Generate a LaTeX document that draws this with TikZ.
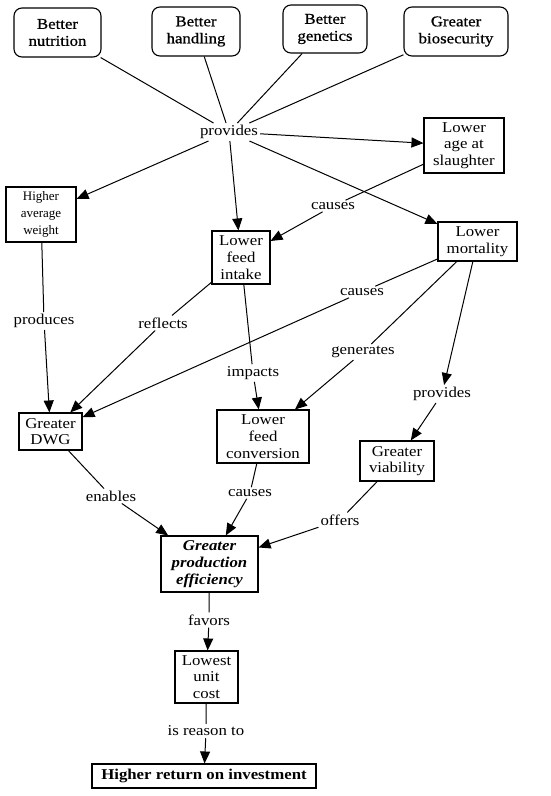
\documentclass[tikz,border=0pt]{standalone}
\usepackage{fontspec}
\setmainfont{Liberation Serif}[FakeStretch=1.12]
\newfontfamily\plainserif{Liberation Serif}
\newfontfamily\sourcefont{Liberation Serif}[FakeStretch=1.12, FakeBold=0.8]
\usetikzlibrary{arrows.meta, positioning}

\tikzset{
  concept/.style={draw, line width=1.1pt, align=center, inner sep=1pt,
    font=\fontsize{15}{16.7}\selectfont},
  source/.style={concept, rounded corners=8pt, font=\fontsize{15}{17}\sourcefont},
  linkword/.style={inner sep=2pt, font=\fontsize{15}{16.7}\selectfont},
  link/.style={line width=1pt},
  flow/.style={line width=1pt, -{Triangle[length=12pt, width=10pt]}}
}

\begin{document}
\begin{tikzpicture}[x=1pt, y=-1pt]
    \useasboundingbox (0,0) rectangle (550,796);

    % Sources
    \node[source, minimum width=87, minimum height=49] (nutr) at (57.5,32.5) {Better\\nutrition};
    \node[source, minimum width=88, minimum height=49] (hand) at (196,31.5) {Better\\handling};
    \node[source, minimum width=84, minimum height=48] (gene) at (325,29) {Better\\genetics};
    \node[source, minimum width=104, minimum height=49] (bios) at (456,31.5) {Greater\\biosecurity};
    \node[linkword] (prov) at (229,132) {provides};

    % Concepts
    \node[concept, minimum width=80, minimum height=55] (age) at (464,145.5) {Lower\\age at\\slaughter};
    \node[concept, minimum width=70, minimum height=55, font=\fontsize{13}{17}\plainserif] (avgw) at (41,214.5) {Higher\\average\\weight};
    \node[concept, minimum width=58, minimum height=53] (intake) at (241,257.5) {Lower\\feed\\intake};
    \node[concept, minimum width=79, minimum height=39] (mort) at (477.5,241.5) {Lower\\mortality};
    \node[concept, minimum width=63, minimum height=37] (dwg) at (50.5,431.5) {Greater\\DWG};
    \node[concept, minimum width=92, minimum height=53] (conv) at (263,436.5) {Lower\\feed\\conversion};
    \node[concept, minimum width=74, minimum height=40] (viab) at (397,461) {Greater\\viability};
    \node[concept, minimum width=97, minimum height=56, font=\fontsize{15}{16.7}\selectfont\bfseries\itshape] (gpe) at (209.5,564) {Greater\\production\\efficiency};
    \node[concept, minimum width=63, minimum height=52] (cost) at (206.5,677) {Lowest\\unit\\cost};
    \node[concept, minimum width=224, minimum height=24, font=\fontsize{15}{16.7}\selectfont\bfseries] (roi) at (204,776) {Higher return on investment};

    % Linking words
    \node[linkword] (causesA) at (333,206) {causes};
    \node[linkword] (produces) at (44,321) {produces};
    \node[linkword] (reflects) at (163,323) {reflects};
    \node[linkword] (causesB) at (362,292) {causes};
    \node[linkword] (impacts) at (253,373) {impacts};
    \node[linkword] (generates) at (363,352) {generates};
    \node[linkword] (provB) at (442,394) {provides};
    \node[linkword] (enables) at (111,496) {enables};
    \node[linkword] (causesC) at (250,493) {causes};
    \node[linkword] (offers) at (340,520) {offers};
    \node[linkword] (favors) at (209,620) {favors};
    \node[linkword] (reason) at (206,731) {is reason to};

    % Top fan
    \foreach \src in {nutr, hand, gene, bios}
        \draw[link] (\src) -- (prov);
    \foreach \dst in {age, avgw, intake, mort}
        \draw[flow] (prov) -- (\dst);

    % Propositions
    \draw[link] (age) -- (causesA);      \draw[flow] (causesA) -- (intake);
    \draw[link] (avgw) -- (produces);    \draw[flow] (produces) -- (dwg);
    \draw[link] (intake) -- (reflects);  \draw[flow] (reflects) -- (dwg);
    \draw[link] (mort) -- (causesB);     \draw[flow] (causesB) -- (dwg);
    \draw[link] (intake) -- (impacts);   \draw[flow] (impacts) -- (conv);
    \draw[link] (mort) -- (generates);   \draw[flow] (generates) -- (conv);
    \draw[flow] (mort) -- (provB);       \draw[flow] (provB) -- (viab);
    \draw[link] (dwg) -- (enables);      \draw[flow] (enables) -- (gpe);
    \draw[link] (conv) -- (causesC);     \draw[flow] (causesC) -- (gpe);
    \draw[link] (viab) -- (offers);      \draw[flow] (offers) -- (gpe);
    \draw[link] (gpe) -- (favors);       \draw[flow] (favors) -- (cost);
    \draw[link] (cost) -- (reason);      \draw[flow] (reason) -- (roi);

\end{tikzpicture}
\end{document}
